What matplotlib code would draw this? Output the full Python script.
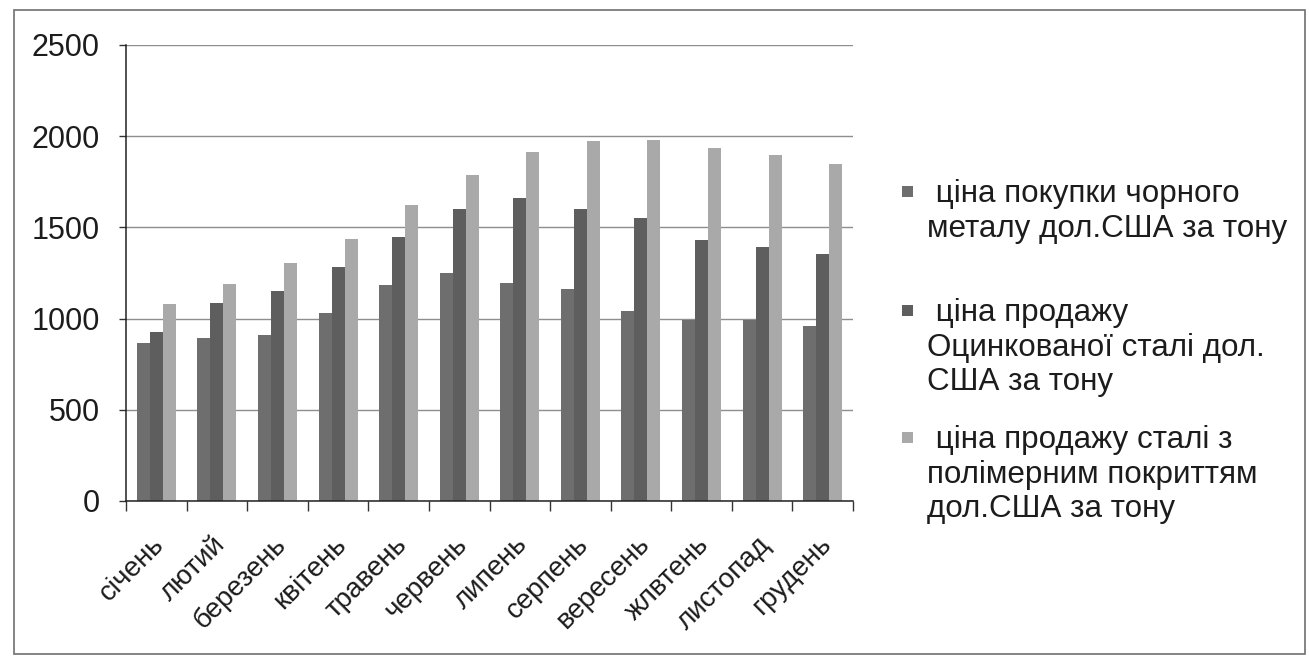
import matplotlib
matplotlib.use("Agg")
import matplotlib.pyplot as plt
import numpy as np
from matplotlib.patches import Rectangle
from matplotlib.transforms import ScaledTranslation

# monthly prices, USD per tonne
months = ["січень", "лютий", "березень", "квітень", "травень", "червень",
          "липень", "серпень", "вересень", "жлвтень", "листопад", "грудень"]
black_metal_buy = [866, 893, 910, 1030, 1185, 1250, 1195, 1160, 1040, 995, 990, 960]
galvanized_sell = [926, 1086, 1150, 1282, 1447, 1603, 1663, 1600, 1549, 1433, 1391, 1355]
coated_sell = [1079, 1192, 1304, 1436, 1625, 1786, 1915, 1972, 1980, 1933, 1899, 1849]

series_labels = [
    " ціна покупки чорного\nметалу дол.США за тону",
    " ціна продажу\nОцинкованої сталі дол.\nСША за тону",
    " ціна продажу сталі з\nполімерним покриттям\nдол.США за тону",
]
y_ticks = [0, 500, 1000, 1500, 2000, 2500]

W, H = 1309, 667
plt.rcParams["font.family"] = ["Liberation Sans", "DejaVu Sans"]
text_color = "#1c1c1c"
colors = ["#6e6e6e", "#5e5e5e", "#a9a9a9"]

fig = plt.figure(figsize=(W / 100, H / 100), dpi=100)
fig.patch.set_facecolor("white")

# plot area in pixel terms
left, right, top, bottom = 126, 853, 45, 501
ax = fig.add_axes([left / W, 1 - bottom / H, (right - left) / W, (bottom - top) / H])

x = np.arange(len(months))
width = 0.215
for k, (vals, col) in enumerate(zip([black_metal_buy, galvanized_sell, coated_sell], colors)):
    ax.bar(x + (k - 1) * width, vals, width=width, color=col, edgecolor="none", zorder=2)

ax.set_xlim(-0.5, len(months) - 0.5)
ax.set_ylim(0, 2500)
ax.set_yticks(y_ticks)
ax.set_yticklabels([str(v) for v in y_ticks], fontsize=22, color=text_color)
ax.yaxis.grid(True, color="#8e8e8e", linewidth=1.0, zorder=0)
ax.set_axisbelow(True)
ax.tick_params(axis="y", length=5, width=1, color="#333333", pad=14)

ax.set_xticks(x)
ax.set_xticklabels(months, rotation=45, ha="right", va="top",
                   rotation_mode="anchor", fontsize=20, color=text_color)
ax.tick_params(axis="x", which="major", length=0, pad=22)
shift = ScaledTranslation(-5 / 100, 0, fig.dpi_scale_trans)
for lbl in ax.get_xticklabels():
    lbl.set_transform(lbl.get_transform() + shift)
ax.set_xticks(np.arange(-0.5, len(months)), minor=True)
ax.tick_params(axis="x", which="minor", length=7, width=1, color="#333333", direction="out")

for side in ("top", "right"):
    ax.spines[side].set_visible(False)
for side in ("left", "bottom"):
    ax.spines[side].set_color("#222222")
    ax.spines[side].set_linewidth(1.1)

# legend drawn by hand: square marker + wrapped label
legend_tops = [179, 298, 425]
for label, col, ty in zip(series_labels, colors, legend_tops):
    fig.patches.append(Rectangle((902 / W, 1 - (ty + 18) / H), 11 / W, 11 / H,
                                 transform=fig.transFigure, facecolor=col,
                                 edgecolor="none"))
    fig.text(927 / W, 1 - ty / H, label, fontsize=22.6, color=text_color,
             ha="left", va="top", linespacing=1.2)

# outer frame around the whole chart
fig.patches.append(Rectangle((14 / W, 1 - 654 / H), (1305 - 14) / W, (654 - 10) / H,
                             transform=fig.transFigure, facecolor="none",
                             edgecolor="#707070", linewidth=1.2))

fig.savefig("out.png", dpi=100)
